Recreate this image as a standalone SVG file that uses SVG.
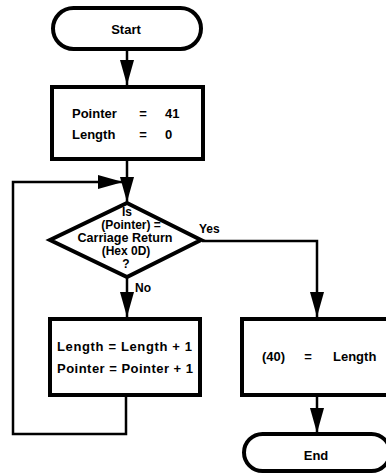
<svg xmlns="http://www.w3.org/2000/svg" width="386" height="474" viewBox="0 0 386 474">
<style>
.shape{fill:#fff;stroke:#000;stroke-width:4}
.conn{fill:none;stroke:#000;stroke-width:2.5}
text{font-family:"Liberation Sans",Arial,sans-serif;font-weight:bold;font-size:13px;fill:#000}
.d{font-size:12px}
.m{text-anchor:middle}
</style>
<defs>
<marker id="arr" markerUnits="userSpaceOnUse" markerWidth="25" markerHeight="14" refX="25" refY="7" orient="auto">
<path d="M0,0 L25,7 L0,14 z" fill="#000"/>
</marker>
</defs>
<g id="connectors">
<path class="conn" d="M127,50 L127,85" marker-end="url(#arr)"/>
<path class="conn" d="M127,160 L127,202" marker-end="url(#arr)"/>
<path class="conn" d="M126,396 L126,434 L13,434 L13,182 L123,182" marker-end="url(#arr)"/>
<path class="conn" d="M127,278 L127,317" marker-end="url(#arr)"/>
<path class="conn" d="M202,241 L317,241 L317,317" marker-end="url(#arr)"/>
<path class="conn" d="M317,396 L317,433" marker-end="url(#arr)"/>
</g>
<g id="start">
<rect class="shape" x="53" y="8" width="148" height="41" rx="20.5"/>
<text class="m" x="126" y="34">Start</text>
</g>
<g id="init">
<rect class="shape" x="52" y="87" width="151" height="72"/>
<text x="72" y="118">Pointer</text>
<text class="m" x="143" y="118">=</text>
<text x="165" y="118">41</text>
<text x="72" y="139">Length</text>
<text class="m" x="143" y="139">=</text>
<text x="165" y="139">0</text>
</g>
<g id="decision">
<polygon class="shape" points="127,203 201,240 127,277 50,240"/>
<text class="m d" x="127" y="216">Is</text>
<text class="m d" x="131" y="229">(Pointer) =</text>
<text class="m d" x="125" y="242" textLength="95" lengthAdjust="spacingAndGlyphs">Carriage Return</text>
<text class="m d" x="126" y="255">(Hex 0D)</text>
<text class="m d" x="126" y="268">?</text>
<text class="d" x="199" y="233">Yes</text>
<text class="d" x="135" y="292">No</text>
</g>
<g id="increment">
<rect class="shape" x="50" y="319" width="150" height="76"/>
<text x="57" y="351" textLength="135" lengthAdjust="spacing">Length = Length + 1</text>
<text x="57" y="373" textLength="136" lengthAdjust="spacing">Pointer = Pointer + 1</text>
</g>
<g id="store">
<rect class="shape" x="242" y="319" width="150" height="76"/>
<text x="262" y="361">(40)</text>
<text class="m" x="308" y="361">=</text>
<text x="333" y="361">Length</text>
</g>
<g id="end">
<rect class="shape" x="244" y="434" width="146" height="37" rx="18.5"/>
<text class="m" x="316" y="460">End</text>
</g>
</svg>
